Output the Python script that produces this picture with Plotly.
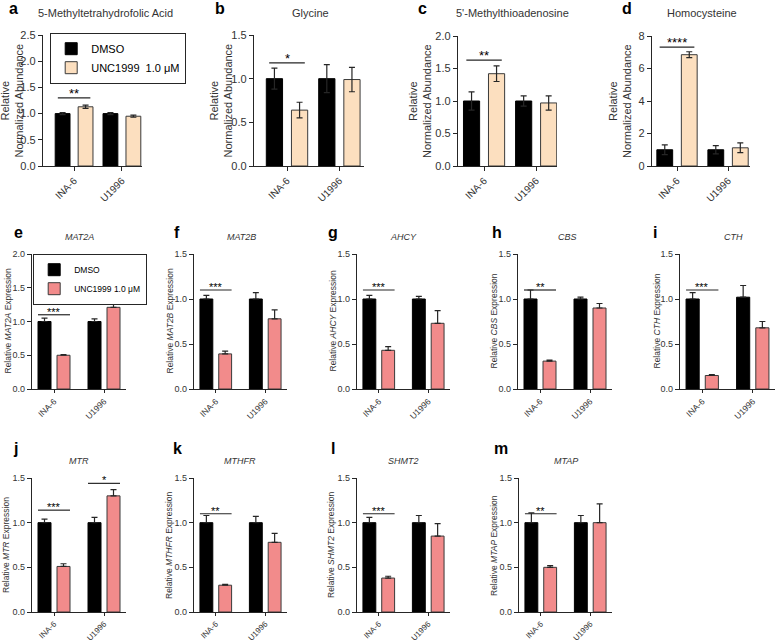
import plotly.graph_objects as go

W, H = 776, 643

cell_lines = ["INA-6", "U1996"]

panel_letters = ["a", "b", "c", "d", "e", "f", "g", "h", "i", "j", "k", "l", "m"]
top_panels = ["a", "b", "c", "d"]
bottom_panels = ["j", "k", "l", "m"]

panel_titles = {
    "a": "5-Methyltetrahydrofolic Acid",
    "b": "Glycine",
    "c": "5'-Methylthioadenosine",
    "d": "Homocysteine",
    "e": "MAT2A", "f": "MAT2B", "g": "AHCY", "h": "CBS", "i": "CTH",
    "j": "MTR", "k": "MTHFR", "l": "SHMT2", "m": "MTAP",
}

dmso_mean = {
    "a": [1.00, 1.00], "b": [1.00, 1.00], "c": [1.00, 1.00], "d": [1.00, 1.00],
    "e": [1.00, 1.00], "f": [1.00, 1.00], "g": [1.00, 1.00], "h": [1.00, 1.00],
    "i": [1.00, 1.02], "j": [1.00, 1.00], "k": [1.00, 1.00], "l": [1.00, 1.00],
    "m": [1.00, 1.00],
}
dmso_err = {
    "a": [0.02, 0.02], "b": [0.12, 0.16], "c": [0.14, 0.08], "d": [0.30, 0.25],
    "e": [0.05, 0.04], "f": [0.04, 0.07], "g": [0.04, 0.03], "h": [0.10, 0.02],
    "i": [0.07, 0.13], "j": [0.04, 0.06], "k": [0.08, 0.07], "l": [0.06, 0.08],
    "m": [0.11, 0.08],
}
unc_mean = {
    "a": [1.13, 0.95], "b": [0.64, 0.99], "c": [1.42, 0.97], "d": [6.85, 1.12],
    "e": [0.50, 1.21], "f": [0.39, 0.78], "g": [0.43, 0.73], "h": [0.31, 0.90],
    "i": [0.15, 0.68], "j": [0.51, 1.30], "k": [0.30, 0.78], "l": [0.38, 0.85],
    "m": [0.50, 1.00],
}
unc_err = {
    "a": [0.03, 0.02], "b": [0.09, 0.14], "c": [0.12, 0.11], "d": [0.18, 0.30],
    "e": [0.01, 0.22], "f": [0.03, 0.10], "g": [0.04, 0.14], "h": [0.01, 0.05],
    "i": [0.01, 0.07], "j": [0.03, 0.07], "k": [0.01, 0.10], "l": [0.02, 0.14],
    "m": [0.02, 0.21],
}

# (group index, stars, bracket height)
significance = {
    "a": [(0, "**", 1.30)], "b": [(0, "*", 1.18)], "c": [(0, "**", 1.63)],
    "d": [(0, "****", 7.32)], "e": [(0, "***", 1.10)], "f": [(0, "***", 1.10)],
    "g": [(0, "***", 1.10)], "h": [(0, "**", 1.10)], "i": [(0, "***", 1.10)],
    "j": [(0, "***", 1.14), (1, "*", 1.44)], "k": [(0, "**", 1.10)],
    "l": [(0, "***", 1.10)], "m": [(0, "**", 1.10)],
}

y_max = {"a": 2.5, "b": 1.5, "c": 2.0, "d": 8, "e": 2.0}
y_step = {"a": 0.5, "b": 0.5, "c": 0.5, "d": 2, "e": 0.5}

# plot boxes in pixels: x0, x1, y0 (top), y1 (bottom)
boxes = {
    "a": (43, 142, 35, 166), "b": (254, 364, 35, 166),
    "c": (458, 557, 36, 166), "d": (652, 750, 36, 166),
    "e": (32, 126, 254, 389), "f": (194, 287, 254, 389),
    "g": (357, 450, 254, 389), "h": (518, 612, 254, 389),
    "i": (680, 775, 254, 389),
    "j": (32, 126, 478, 612), "k": (194, 287, 478, 612),
    "l": (357, 450, 478, 612), "m": (519, 612, 478, 612),
}
x_ranges = {"a": [-0.65, 1.42], "b": [-0.63, 1.47], "c": [-0.5, 1.4], "d": [-0.49, 1.43]}
ytitle_x = {
    "a": 11, "b": 220, "c": 420, "d": 620,
    "e": 7, "f": 169, "g": 332, "h": 493, "i": 656,
    "j": 6, "k": 169, "l": 331, "m": 494,
}
letter_pos = {
    "a": (14, 9), "b": (220, 9), "c": (423, 9), "d": (627, 9),
    "e": (18, 232), "f": (177, 232), "g": (333, 232), "h": (497, 232), "i": (655, 232),
    "j": (15, 448), "k": (177, 448), "l": (333, 448), "m": (501, 448),
}
title_pos = {
    "a": (105, 13), "b": (310, 13), "c": (512, 13), "d": (702, 13),
    "e": (79, 237), "f": (241, 237), "g": (403, 237), "h": (567, 237), "i": (733, 237),
    "j": (79, 461), "k": (240, 461), "l": (403, 461), "m": (566, 461),
}

PEACH = "#fcdfbf"
SALMON = "#f28b8b"
AXIS = "#262626"
TEXT = "#333333"
FONT = "Liberation Sans, Arial, sans-serif"


def px_x(x):
    return x / W


def px_y(y):
    return 1 - y / H


fig = go.Figure()
shapes = []
annotations = []
layout = {}

for n, p in enumerate(panel_letters, start=1):
    top = p in top_panels
    xa = "x" if n == 1 else f"x{n}"
    ya = "y" if n == 1 else f"y{n}"
    x0, x1, y0, y1 = boxes[p]
    half = 0.24 if top else 0.19
    bw = 0.31 if top else 0.26
    span = 0.34 if top else 0.32
    unc_color = PEACH if top else SALMON

    for name, mean, err, color, edge, off in [
        ("DMSO", dmso_mean[p], dmso_err[p], "black", "black", -half),
        ("UNC1999  1.0 μM" if top else "UNC1999 1.0 μM", unc_mean[p], unc_err[p],
         unc_color, "#3a3a3a", half),
    ]:
        if top:
            ey = dict(type="data", array=err, color=AXIS, thickness=1.2, width=3)
        else:
            ey = dict(type="data", array=err, arrayminus=[0, 0], symmetric=False,
                      color=AXIS, thickness=1.2, width=3)
        fig.add_trace(go.Bar(
            x=cell_lines, y=mean, error_y=ey, name=name,
            width=bw, offset=off - bw / 2,
            marker=dict(color=color, line=dict(color=edge, width=1)),
            showlegend=p in ("a", "e"),
            legend="legend" if top else "legend2",
            xaxis=xa, yaxis=ya,
        ))

    ymax = y_max.get(p, 1.5)
    step = y_step.get(p, 0.5)
    if top:
        ytitle = "Relative<br>Normalized Abundance"
        tfs, ttfs, xfs = 11, 11, 10
    else:
        ytitle = f"Relative <i>{panel_titles[p]}</i> Expression"
        tfs, ttfs = 9, 8.5
        xfs = 8 if p in bottom_panels else 8.5

    layout["xaxis" if n == 1 else f"xaxis{n}"] = dict(
        domain=[px_x(x0), px_x(x1)], anchor=ya, automargin=False,
        range=x_ranges.get(p, [-0.44, 1.44]),
        showline=True, linecolor=AXIS, linewidth=1.3, ticks="outside",
        ticklen=4 if top else 3, tickcolor=AXIS, tickwidth=1.2, tickangle=-45,
        tickfont=dict(size=xfs, color=TEXT, family=FONT),
        showgrid=False, zeroline=False, fixedrange=True,
    )
    layout["yaxis" if n == 1 else f"yaxis{n}"] = dict(
        domain=[px_y(y1), px_y(y0)], anchor=xa, automargin=False,
        range=[0, ymax], dtick=step, tick0=0,
        tickformat=".1f" if p != "d" else "d",
        showline=True, linecolor=AXIS, linewidth=1.3, ticks="outside",
        ticklen=4, tickcolor=AXIS, tickwidth=1.2,
        tickfont=dict(size=tfs, color=TEXT, family=FONT),
        showgrid=False, zeroline=False, fixedrange=True,
    )
    # y-axis title placed as rotated text beside the axis
    annotations.append(dict(xref="paper", yref="paper",
                            x=px_x(ytitle_x[p]), y=px_y((y0 + y1) / 2),
                            text=ytitle, textangle=-90, showarrow=False,
                            xanchor="center", yanchor="middle",
                            font=dict(size=ttfs, color=TEXT, family=FONT)))

    for g, stars, h in significance[p]:
        shapes.append(dict(type="line", xref=xa, yref=ya,
                           x0=g - span, x1=g + span, y0=h, y1=h,
                           line=dict(color=AXIS, width=1.2)))
        annotations.append(dict(xref=xa, yref=ya, x=g, y=h, text=stars,
                                showarrow=False, yanchor="bottom", yshift=-5,
                                font=dict(size=13 if top else 11, color="black",
                                          family=FONT)))

    lx, ly = letter_pos[p]
    annotations.append(dict(xref="paper", yref="paper", x=px_x(lx), y=px_y(ly),
                            text=f"<b>{p}</b>", showarrow=False,
                            xanchor="center", yanchor="middle",
                            font=dict(size=16, color="black", family=FONT)))
    tx, ty = title_pos[p]
    ttext = panel_titles[p] if top else f"<i>{panel_titles[p]}</i>"
    annotations.append(dict(xref="paper", yref="paper", x=px_x(tx), y=px_y(ty),
                            text=ttext, showarrow=False,
                            xanchor="center", yanchor="middle",
                            font=dict(size=11 if top else 9, color=TEXT, family=FONT)))

fig.update_layout(
    **layout,
    width=W, height=H,
    margin=dict(l=0, r=0, t=0, b=0),
    paper_bgcolor="white", plot_bgcolor="white",
    barmode="overlay",
    font=dict(family=FONT, color=TEXT),
    shapes=shapes, annotations=annotations,
    legend=dict(x=px_x(50), y=px_y(33), xanchor="left", yanchor="top",
                bordercolor=AXIS, borderwidth=1.2, bgcolor="white",
                font=dict(size=11, color="black", family=FONT),
                itemwidth=30),
    legend2=dict(x=px_x(33), y=px_y(254), xanchor="left", yanchor="top",
                 bordercolor=AXIS, borderwidth=1.2, bgcolor="white",
                 font=dict(size=8.5, color="black", family=FONT),
                 itemwidth=30),
)

fig.write_html("out.html", config={"displayModeBar": False},
               post_script="document.body.style.margin='0';")
